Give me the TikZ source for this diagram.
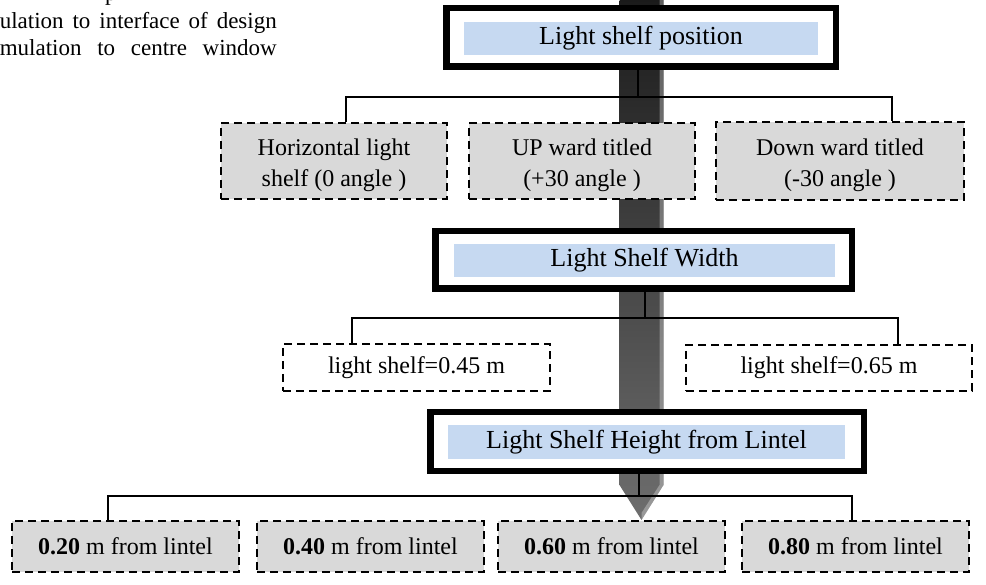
\documentclass[tikz,border=0pt]{standalone}
\usepackage{fontspec}
\setmainfont{Liberation Serif}
\definecolor{bandblue}{HTML}{C6D9F1}
\definecolor{boxgray}{HTML}{D9D9D9}
\definecolor{arrowtop}{HTML}{1A1A1A}
\definecolor{arrowbot}{HTML}{6E6E6E}
\tikzset{
	titlebox/.style={draw, line width=6.5pt, fill=white, inner sep=0pt},
	titleband/.style={fill=bandblue, inner sep=0pt, font=\fontsize{26}{30}\selectfont},
	choice/.style={draw, line width=2pt, dash pattern=on 8pt off 5pt, fill=boxgray, inner sep=0pt, align=center, font=\fontsize{24}{31}\selectfont},
	twoline/.style={choice, text height=57pt},
	plainchoice/.style={choice, fill=white},
	link/.style={line width=1.5pt},
	pagetext/.style={inner sep=0pt, font=\fontsize{23}{28}\selectfont}
}
\begin{document}
\begin{tikzpicture}[x=1pt,y=-1pt]
			\useasboundingbox (0,0) rectangle (986,585);
			% text of the page, cut at the left
			\node[pagetext, anchor=base west] (txta) at (105,0.5) {p};
			\node[pagetext, anchor=base east] (txtb) at (277,29) {\makebox[277pt][s]{ulation to interface of design}};
			\node[pagetext, anchor=base east] (txtc) at (277,56) {\makebox[277pt][s]{mulation to centre window}};
			% the long arrow behind the boxes
			\shade[top color=arrowtop, bottom color=arrowbot] (619.5,-2) -- (663.5,-2) -- (663.5,485) -- (641.5,520) -- (619.5,485) -- cycle;
			\fill[white, opacity=0.3] (659.5,-2) -- (663.5,-2) -- (663.5,485) -- (641.5,520) -- (641.5,513) -- (659.5,485) -- cycle;
			% light shelf position
			\node[titlebox, minimum width=389.5, minimum height=58.5] (pos) at (641,37.5) {};
			\node[titleband, minimum width=354, minimum height=33] (posband) at (641,38.5) {Light shelf position};
			\node[twoline, minimum width=226, minimum height=76] (hz) at (334,161) {Horizontal light\\shelf (0 angle )};
			\node[twoline, minimum width=226, minimum height=76] (up) at (582,161) {UP ward titled\\(+30 angle )};
			\node[twoline, minimum width=248, minimum height=78] (dn) at (840,161) {Down ward titled\\(-30 angle )};
			% light shelf width
			\node[titlebox, minimum width=416.5, minimum height=57.5] (wid) at (643.5,260) {};
			\node[titleband, minimum width=381, minimum height=33] (widband) at (644.5,260.5) {Light Shelf Width};
			\node[plainchoice, minimum width=267, minimum height=47] (w45) at (416.5,367.5) {light shelf=0.45 m};
			\node[plainchoice, minimum width=286, minimum height=46] (w65) at (829,368) {light shelf=0.65 m};
			% light shelf height
			\node[titlebox, minimum width=433.5, minimum height=58.5] (hgt) at (647,441.5) {};
			\node[titleband, minimum width=397, minimum height=34] (hgtband) at (646.5,442) {Light Shelf Height from Lintel};
			\node[choice, minimum width=227, minimum height=51] (h20) at (125.5,546.5) {\textbf{0.20} m from lintel};
			\node[choice, minimum width=227, minimum height=51] (h40) at (370.5,546.5) {\textbf{0.40} m from lintel};
			\node[choice, minimum width=227, minimum height=51] (h60) at (611.5,546.5) {\textbf{0.60} m from lintel};
			\node[choice, minimum width=227, minimum height=51] (h80) at (855.5,546.5) {\textbf{0.80} m from lintel};
			% connectors
			\draw[link] ([xshift=-3]pos.south) -- ++(0,27);
			\draw[link] ([xshift=12]hz.north) -- ++(0,-25) -| ([xshift=52]dn.north);
			\draw[link] ([xshift=1.5]wid.south) -- ++(0,26);
			\draw[link] ([xshift=-64.5]w45.north) -- ++(0,-25) -| ([xshift=69]w65.north);
			\draw[link] ([xshift=-8]hgt.south) -- ++(0,22);
			\draw[link] ([xshift=-17.5]h20.north) -- ++(0,-24) -| ([xshift=-3.5]h80.north);
		\end{tikzpicture}
\end{document}
